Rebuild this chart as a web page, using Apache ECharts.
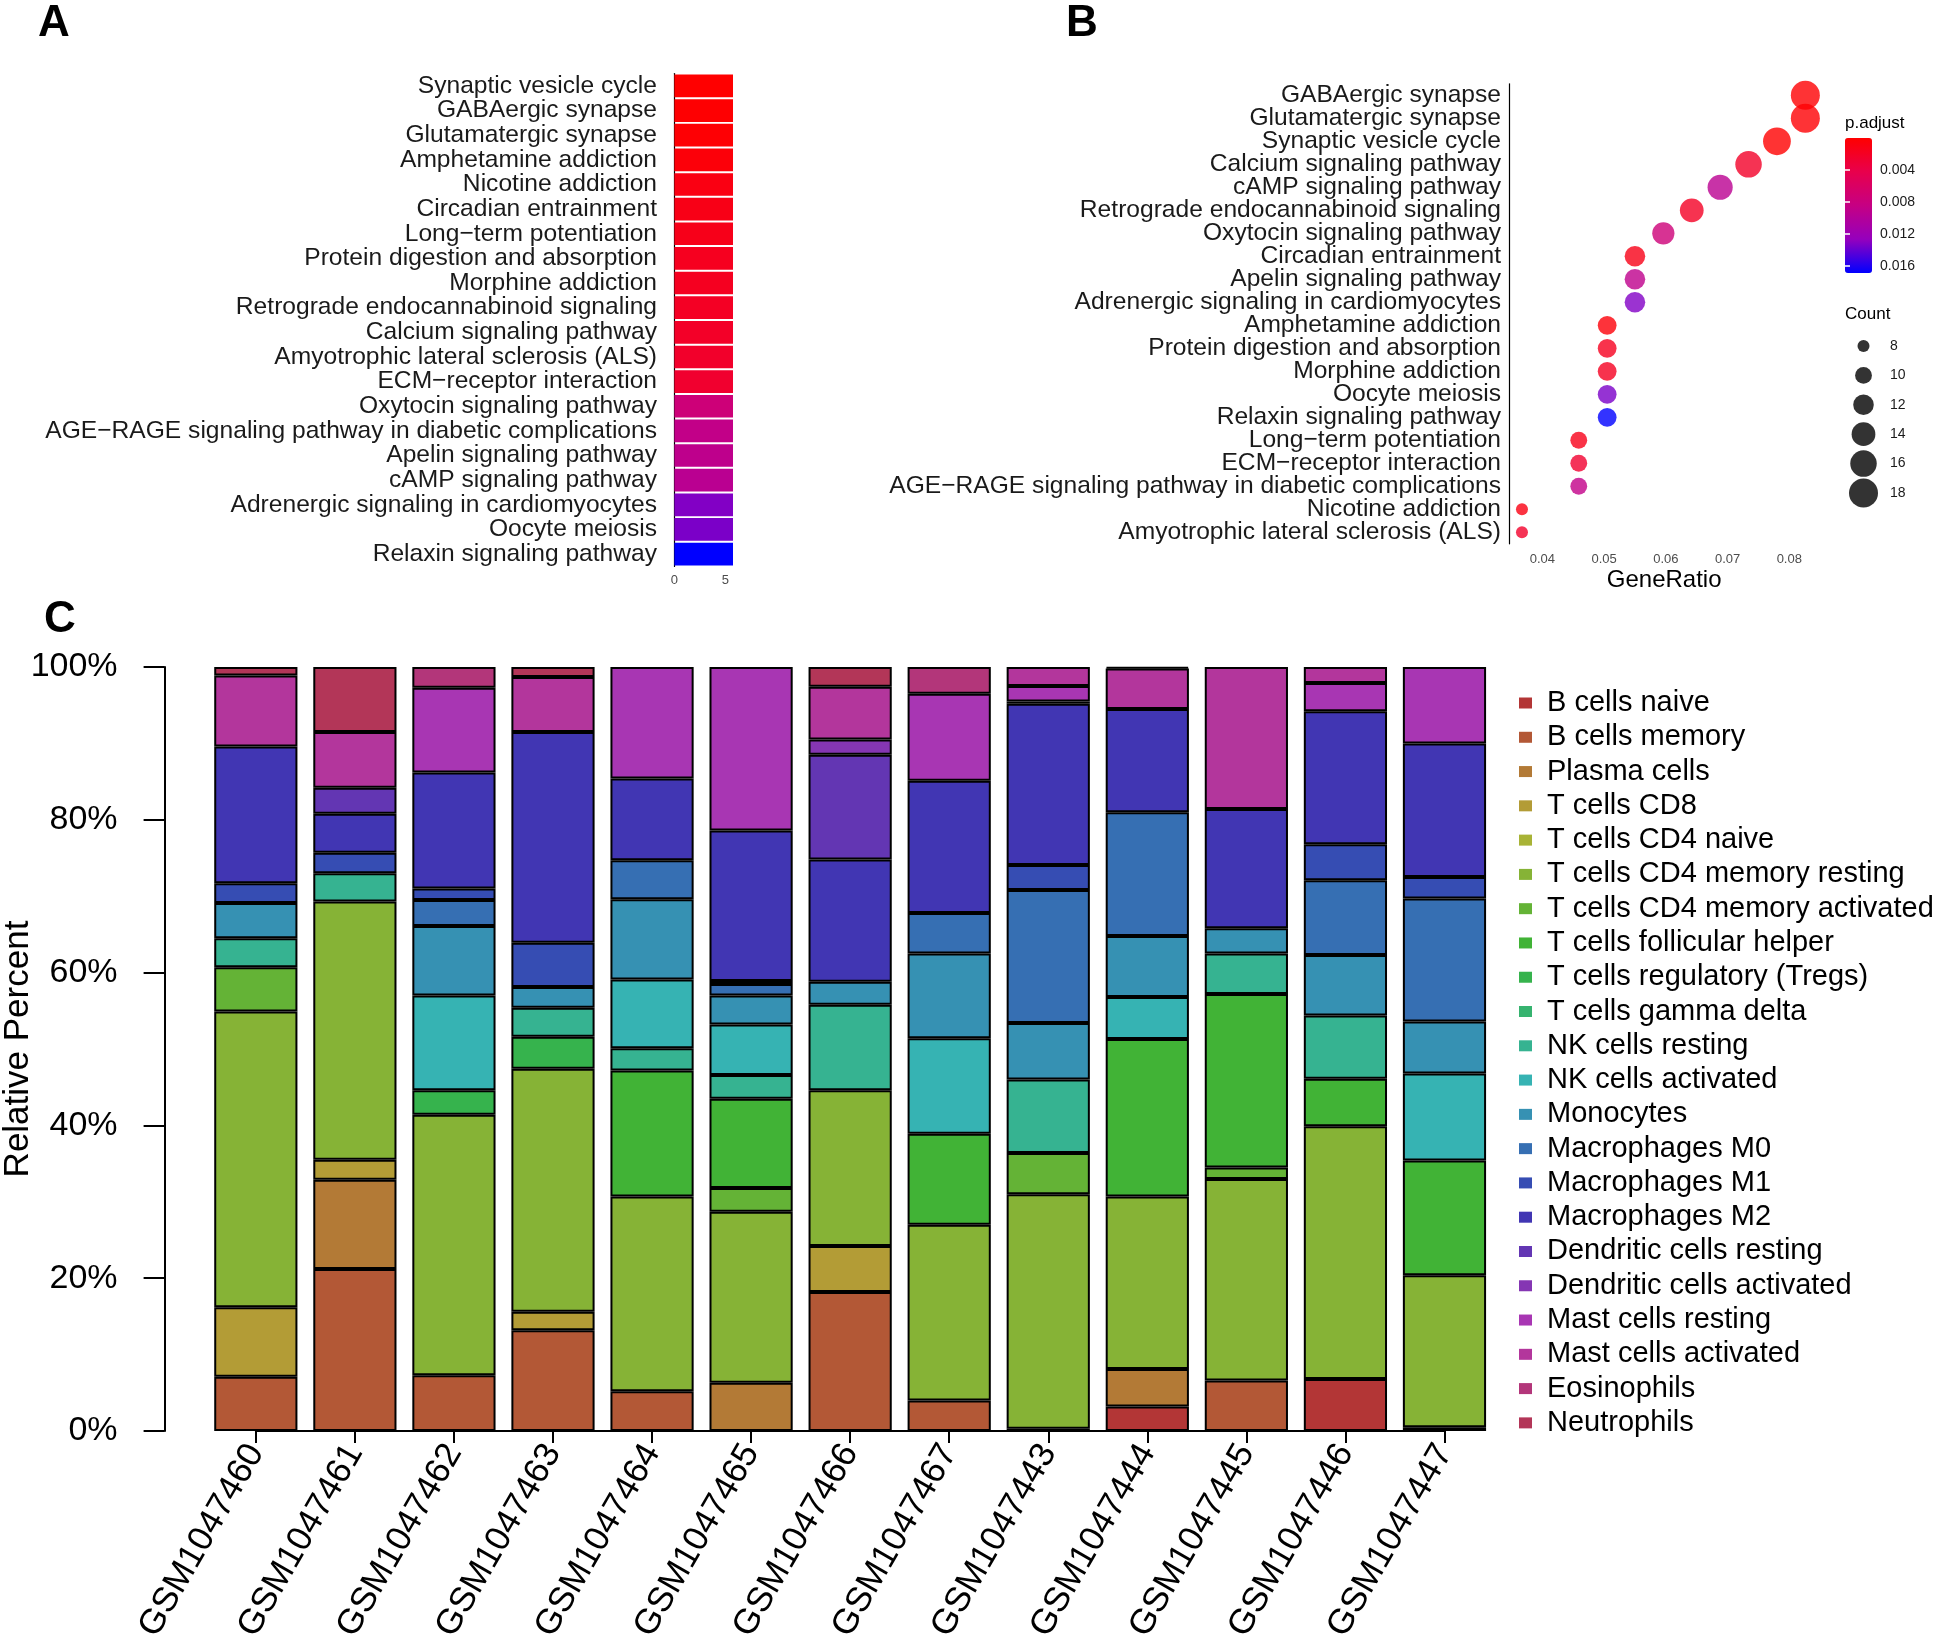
<!DOCTYPE html>
<html>
<head>
<meta charset="utf-8">
<script src="https://cdn.jsdelivr.net/npm/echarts@6/dist/echarts.min.js"></script>
<style>
  html, body { margin: 0; padding: 0; background: #fff; }
  #chart { width: 1944px; height: 1640px; }
</style>
</head>
<body>
<div id="chart"></div>
<script>
// ---- panel A: enriched pathways, ordered by p.adjust
const pathwaysA = [
  "Synaptic vesicle cycle", "GABAergic synapse", "Glutamatergic synapse",
  "Amphetamine addiction", "Nicotine addiction", "Circadian entrainment",
  "Long−term potentiation", "Protein digestion and absorption", "Morphine addiction",
  "Retrograde endocannabinoid signaling", "Calcium signaling pathway",
  "Amyotrophic lateral sclerosis (ALS)", "ECM−receptor interaction",
  "Oxytocin signaling pathway", "AGE−RAGE signaling pathway in diabetic complications",
  "Apelin signaling pathway", "cAMP signaling pathway",
  "Adrenergic signaling in cardiomyocytes", "Oocyte meiosis", "Relaxin signaling pathway"
];
const barValueA = [5.76, 5.76, 5.76, 5.76, 5.76, 5.76, 5.76, 5.76, 5.76, 5.76,
                   5.76, 5.76, 5.76, 5.76, 5.76, 5.76, 5.76, 5.76, 5.76, 5.76];
const pAdjustA = [0.00001, 0.0001, 0.0002, 0.0005, 0.0010, 0.0012, 0.0014, 0.0017, 0.0018, 0.0020,
                  0.0022, 0.0024, 0.0026, 0.0076, 0.0088, 0.0091, 0.0095, 0.0132, 0.0134, 0.0169];
const pTicks = [0.004, 0.008, 0.012, 0.016];

// ---- panel B: dot plot
const pathwaysB = [
  "GABAergic synapse", "Glutamatergic synapse", "Synaptic vesicle cycle",
  "Calcium signaling pathway", "cAMP signaling pathway", "Retrograde endocannabinoid signaling",
  "Oxytocin signaling pathway", "Circadian entrainment", "Apelin signaling pathway",
  "Adrenergic signaling in cardiomyocytes", "Amphetamine addiction",
  "Protein digestion and absorption", "Morphine addiction", "Oocyte meiosis",
  "Relaxin signaling pathway", "Long−term potentiation", "ECM−receptor interaction",
  "AGE−RAGE signaling pathway in diabetic complications", "Nicotine addiction",
  "Amyotrophic lateral sclerosis (ALS)"
];
const geneRatioB = [0.0826, 0.0826, 0.0780, 0.0734, 0.0688, 0.0642, 0.0596, 0.0550, 0.0550, 0.0550,
                    0.0505, 0.0505, 0.0505, 0.0505, 0.0505, 0.0459, 0.0459, 0.0459, 0.0367, 0.0367];
const geneCountB = [18, 18, 17, 16, 15, 14, 13, 12, 12, 12, 11, 11, 11, 11, 11, 10, 10, 10, 8, 8];
const ratioTicks = [0.04, 0.05, 0.06, 0.07, 0.08];
const countLegend = ["8", "10", "12", "14", "16", "18"];

// ---- panel C: immune cell fractions (%), bottom to top
const samples = ["GSM1047460", "GSM1047461", "GSM1047462", "GSM1047463", "GSM1047464",
  "GSM1047465", "GSM1047466", "GSM1047467", "GSM1047443", "GSM1047444",
  "GSM1047445", "GSM1047446", "GSM1047447"];
const cellTypes = ["B cells naive", "B cells memory", "Plasma cells", "T cells CD8",
  "T cells CD4 naive", "T cells CD4 memory resting", "T cells CD4 memory activated",
  "T cells follicular helper", "T cells regulatory (Tregs)", "T cells gamma delta",
  "NK cells resting", "NK cells activated", "Monocytes", "Macrophages M0",
  "Macrophages M1", "Macrophages M2", "Dendritic cells resting",
  "Dendritic cells activated", "Mast cells resting", "Mast cells activated",
  "Eosinophils", "Neutrophils"];
const gsm1047460 = [0, 7.1, 0, 9.1, 0, 38.7, 5.8, 0, 0, 0, 3.8, 0, 4.6, 0, 2.6, 17.9, 0, 0, 0, 9.3, 0, 1.1];
const gsm1047461 = [0, 21.2, 11.7, 2.6, 0, 33.8, 0, 0, 0, 0, 3.7, 0, 0, 0, 2.7, 5.1, 3.4, 0, 0, 7.3, 0, 8.5];
const gsm1047462 = [0, 7.3, 0, 0, 0, 34.1, 0, 0, 3.2, 0, 0, 12.4, 9.1, 3.4, 1.5, 15.2, 0, 0, 11.1, 0, 2.7, 0];
const gsm1047463 = [0, 13.2, 0, 2.4, 0, 31.8, 0, 0, 4.2, 0, 3.8, 0, 2.7, 0, 5.8, 27.6, 0, 0, 0, 7.2, 0, 1.3];
const gsm1047464 = [0, 5.2, 0, 0, 0, 25.5, 0, 16.5, 0, 0, 2.9, 9.0, 10.5, 5.1, 0, 10.7, 0, 0, 14.6, 0, 0, 0];
const gsm1047465 = [0, 0, 6.3, 0, 0, 22.4, 3.1, 11.7, 0, 0, 3.1, 6.6, 3.8, 1.5, 0.4, 19.7, 0, 0, 21.4, 0, 0, 0];
const gsm1047466 = [0, 18.2, 0, 6.0, 0, 20.4, 0, 0, 0, 0, 11.2, 0, 3.0, 0, 0, 16.0, 13.7, 2.0, 0, 6.9, 0, 2.6];
const gsm1047467 = [0, 4.0, 0, 0, 0, 23.0, 0, 11.9, 0, 0, 0, 12.5, 11.1, 5.3, 0, 17.3, 0, 0, 11.4, 0, 3.5, 0];
const gsm1047443 = [0, 0.3, 0, 0, 0, 30.7, 5.4, 0, 0, 0, 9.6, 0, 7.4, 17.4, 3.3, 21.1, 0, 0.3, 2.0, 2.5, 0, 0];
const gsm1047444 = [3.2, 0, 4.9, 0, 0, 22.6, 0, 20.6, 0, 0, 0, 5.5, 8.0, 16.2, 0, 13.5, 0, 0, 0, 5.3, 0.2, 0];
const gsm1047445 = [0, 6.6, 0, 0, 0, 26.4, 1.5, 22.7, 0, 0, 5.3, 0, 3.3, 0, 0, 15.6, 0, 0, 0, 18.6, 0, 0];
const gsm1047446 = [6.8, 0, 0, 0, 0, 33.1, 0, 6.2, 0, 0, 8.3, 0, 7.9, 9.8, 4.7, 17.4, 0, 0, 3.7, 2.1, 0, 0];
const gsm1047447 = [0, 0, 0, 0.5, 0, 19.9, 0, 15.0, 0, 0, 0, 11.4, 6.8, 16.1, 2.8, 17.5, 0, 0, 10.0, 0, 0, 0];
const sampleFractions = [gsm1047460, gsm1047461, gsm1047462, gsm1047463, gsm1047464, gsm1047465,
  gsm1047466, gsm1047467, gsm1047443, gsm1047444, gsm1047445, gsm1047446, gsm1047447];
const yTicksC = [0, 20, 40, 60, 80, 100];

// ---- styling
const cellPalette = ["#B33636", "#B35836", "#B37A36", "#B39C36", "#A8B336", "#86B336",
  "#64B336", "#41B336", "#36B34D", "#36B36F", "#36B391", "#36B3B3", "#3691B3", "#366FB3",
  "#364DB3", "#4136B3", "#6336B3", "#8536B3", "#A836B3", "#B3369C", "#B3367A", "#B33658"];
const font = "Liberation Sans, Arial, sans-serif";
const dark = "#1a1a1a";
const grey = "#4D4D4D";
const dotSize = c => Math.sqrt(69.7 * c - 413);

const pByName = {};
pathwaysA.forEach((n, i) => { pByName[n] = pAdjustA[i]; });

const chart = echarts.init(document.getElementById("chart"));

const cSeries = cellTypes.map((name, i) => ({
  name: name,
  type: "bar",
  xAxisIndex: 4,
  yAxisIndex: 5,
  stack: "total",
  barCategoryGap: "16%",
  itemStyle: { color: cellPalette[i], borderColor: "#000", borderWidth: 2 },
  data: sampleFractions.map(f => (f[i] === 0 ? "-" : f[i]))
}));

const smallAxis = { lineStyle: { color: "#000", width: 1.2 } };
const noBounds = { outerBoundsMode: "none", containLabel: false };

chart.setOption({
  animation: false,
  textStyle: { fontFamily: font },
  title: [
    { text: "A", left: 38, top: 2, padding: 0, textStyle: { fontSize: 44, fontWeight: "bold", color: "#000" } },
    { text: "B", left: 1066, top: 2, padding: 0, textStyle: { fontSize: 44, fontWeight: "bold", color: "#000" } },
    { text: "C", left: 44, top: 598, padding: 0, textStyle: { fontSize: 44, fontWeight: "bold", color: "#000" } },
    { text: "p.adjust", left: 1845, top: 115, padding: 0, textStyle: { fontSize: 17, fontWeight: "normal", color: "#000" } },
    { text: "Count", left: 1845, top: 306, padding: 0, textStyle: { fontSize: 17, fontWeight: "normal", color: "#000" } }
  ],
  grid: [
    Object.assign({ left: 666, top: 73.6, width: 67, height: 492.8 }, noBounds),
    Object.assign({ left: 1509, top: 83.8, width: 310.3, height: 460 }, noBounds),
    Object.assign({ left: 1845, top: 138, width: 27, height: 135 }, noBounds),
    Object.assign({ left: 1863, top: 346, width: 1, height: 147 }, noBounds),
    Object.assign({ left: 206.3, top: 667, width: 1287.7, height: 764 }, noBounds),
    Object.assign({ left: 255.8, top: 667, width: 1188.7, height: 764 }, noBounds)
  ],
  xAxis: [
    {
      gridIndex: 0, type: "value", min: -0.82, max: 5.76,
      axisLine: smallAxis,
      axisTick: { length: 4, customValues: [0, 5], lineStyle: { color: "#000" } },
      axisLabel: { customValues: [0, 5], fontSize: 13, color: grey, margin: 8 },
      splitLine: { show: false }
    },
    {
      gridIndex: 1, type: "value", min: 0.0346, max: 0.08486, offset: 3,
      name: "GeneRatio", nameLocation: "middle", nameGap: 22,
      nameTextStyle: { fontSize: 24, color: "#000" },
      axisLine: smallAxis,
      axisTick: { length: 4, customValues: ratioTicks, lineStyle: { color: "#000" } },
      axisLabel: { customValues: ratioTicks, fontSize: 13, color: grey, margin: 6,
                   formatter: v => v.toFixed(2) },
      splitLine: { show: false }
    },
    { gridIndex: 2, type: "value", show: false },
    { gridIndex: 3, type: "value", min: -1, max: 1, show: false },
    { gridIndex: 4, type: "category", data: samples, show: false },
    {
      gridIndex: 5, type: "category", data: samples, boundaryGap: false, offset: 7,
      axisLine: { lineStyle: { color: "#000", width: 2 } },
      axisTick: { length: 12, lineStyle: { color: "#000", width: 2 } },
      axisLabel: { interval: 0, rotate: 60, fontSize: 35, color: "#000", margin: 9 }
    }
  ],
  yAxis: [
    {
      gridIndex: 0, type: "category", data: pathwaysA, inverse: true,
      axisLine: smallAxis,
      axisTick: { length: 4, alignWithLabel: true, lineStyle: { color: "#000" } },
      axisLabel: { interval: 0, fontSize: 24.6, color: dark, margin: 9 }
    },
    {
      gridIndex: 1, type: "category", data: pathwaysB, inverse: true,
      axisLine: smallAxis,
      axisTick: { length: 4, alignWithLabel: true, lineStyle: { color: "#000" } },
      axisLabel: { interval: 0, fontSize: 24.6, color: dark, margin: 8 }
    },
    {
      gridIndex: 2, type: "value", min: 0, max: 0.0169, inverse: true, position: "right", z: 10,
      axisLine: { show: false }, splitLine: { show: false },
      axisTick: { inside: true, length: 5, customValues: pTicks, lineStyle: { color: "#fff", width: 1.5 } },
      axisLabel: { customValues: pTicks, fontSize: 14, color: "#1a1a1a", margin: 8,
                   formatter: v => v.toFixed(3) }
    },
    {
      gridIndex: 2, type: "value", min: 0, max: 0.0169, inverse: true, position: "left", z: 10,
      axisLine: { show: false }, splitLine: { show: false }, axisLabel: { show: false },
      axisTick: { inside: true, length: 5, customValues: pTicks, lineStyle: { color: "#fff", width: 1.5 } }
    },
    {
      gridIndex: 3, type: "category", data: countLegend, inverse: true, boundaryGap: false,
      position: "right",
      axisLine: { show: false }, axisTick: { show: false },
      axisLabel: { fontSize: 14, color: "#1a1a1a", margin: 26 }
    },
    {
      gridIndex: 4, type: "value", min: 0, max: 100, offset: 41.7,
      name: "Relative Percent", nameLocation: "middle", nameGap: 129, nameMoveOverlap: false,
      nameTextStyle: { fontSize: 35, color: "#000" },
      axisLine: { show: true, lineStyle: { color: "#000", width: 2 } },
      axisTick: { show: true, length: 21, customValues: yTicksC, lineStyle: { color: "#000", width: 2 } },
      axisLabel: { customValues: yTicksC, fontSize: 34, color: "#000", margin: 47,
                   formatter: "{value}%" },
      splitLine: { show: false }
    },
    { gridIndex: 5, type: "value", show: false }
  ],
  visualMap: {
    type: "continuous",
    seriesIndex: [0, 1],
    dimension: 2,
    min: 0,
    max: 0.0169,
    inverse: true,
    calculable: false,
    realtime: false,
    left: 1845,
    top: 138,
    padding: 0,
    itemWidth: 27,
    itemHeight: 135,
    text: null,
    showLabel: false,
    inRange: { color: ["#FF0000", "#E8004C", "#C60083", "#9500BD", "#0000FF"] }
  },
  legend: {
    data: cellTypes,
    orient: "vertical",
    left: 1514,
    top: 683,
    itemWidth: 13,
    itemHeight: 11,
    itemGap: 4.28,
    icon: "rect",
    itemStyle: { borderWidth: 0 },
    textStyle: { fontSize: 29, color: "#000", lineHeight: 30, padding: [0, 0, 0, 10] },
    selectedMode: false
  },
  series: [
    {
      type: "bar",
      xAxisIndex: 0,
      yAxisIndex: 0,
      barCategoryGap: "8%",
      encode: { x: 0, y: 1 },
      data: pathwaysA.map((n, i) => [barValueA[i], n, pAdjustA[i]])
    },
    {
      type: "scatter",
      xAxisIndex: 1,
      yAxisIndex: 1,
      encode: { x: 0, y: 1 },
      symbolSize: d => dotSize(d[3]),
      data: pathwaysB.map((n, i) => [geneRatioB[i], n, pByName[n], geneCountB[i]])
    },
    {
      type: "scatter",
      xAxisIndex: 3,
      yAxisIndex: 4,
      encode: { x: 0, y: 1 },
      itemStyle: { color: "#000" },
      symbolSize: d => dotSize(d[2]),
      data: countLegend.map(c => [0, c, Number(c)])
    }
  ].concat(cSeries)
});
</script>
</body>
</html>
